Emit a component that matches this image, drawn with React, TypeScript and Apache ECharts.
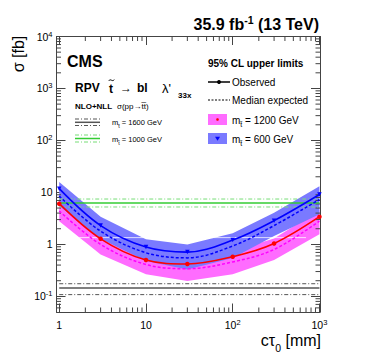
import React, { useEffect, useRef } from 'react';
import * as echarts from 'echarts';

// ---- data ----
const CT = [1, 3, 10, 30, 100, 300, 1000];

const OBS_600 = [11.8, 2.3, 0.89, 0.71, 1.21, 2.86, 9.1];
const EXP_600 = [8.5, 1.8, 0.69, 0.55, 0.93, 2.3, 7.3];
const EXP_600_LO = [5.5, 1.29, 0.48, 0.33, 0.55, 1.45, 3.8];
const EXP_600_HI = [15.8, 3.4, 1.25, 1.0, 1.63, 4.07, 13.2];

const OBS_1200 = [6.07, 1.28, 0.5, 0.42, 0.58, 1.04, 3.41];
const EXP_1200 = [4.4, 1.0, 0.41, 0.34, 0.46, 0.8, 2.8];
const EXP_1200_LO = [2.8, 0.64, 0.265, 0.197, 0.265, 0.5, 1.56];
const EXP_1200_HI = [7.0, 1.6, 0.65, 0.55, 0.75, 1.3, 4.6];

const HLINE_X = [1, 1000];
const XSEC_1000 = [6.25, 5.24, 7.46]; // nominal, down, up
const XSEC_1600 = [0.145, 0.108, 0.175];
const WHITE_X = [1.7, 700];
const WHITE_Y = 1.35;

const X_RANGE = [0.93, 1015];
const Y_RANGE = [0.05, 10000];

const X_MINOR = [2, 3, 4, 5, 6, 7, 8, 9, 20, 30, 40, 50, 60, 70, 80, 90, 200, 300, 400, 500, 600, 700, 800, 900];
const Y_MINOR = [
  0.06, 0.07, 0.08, 0.09,
  0.2, 0.3, 0.4, 0.5, 0.6, 0.7, 0.8, 0.9,
  2, 3, 4, 5, 6, 7, 8, 9,
  20, 30, 40, 50, 60, 70, 80, 90,
  200, 300, 400, 500, 600, 700, 800, 900,
  2000, 3000, 4000, 5000, 6000, 7000, 8000, 9000,
];

// ---- styles ----
const FONT = 'Liberation Sans, Arial, Helvetica, sans-serif';
const FRAME = '#444';
const BLUE_BAND = '#7a7aff';
const MAG_BAND = '#ff6cff';
const BLUE = '#0000ff';
const RED = '#ff0000';
const MAGENTA = '#ff00ff';
const GREEN = '#33cc33';
const GREEN_LIGHT = '#77dd77';
const GRAY = '#555555';
const DASHDOT = [4, 2, 1, 2];

const fmtPow = (v: number) => {
  const e = Math.log10(v);
  const r = Math.round(e);
  if (Math.abs(e - r) > 1e-6) return '';
  if (r === 0) return '1';
  if (r === 1) return '10';
  return `10{sup|${r}}`;
};

const labelRich = {
  sup: { fontSize: 7.5, fontFamily: FONT, color: '#000', verticalAlign: 'top', lineHeight: 8, padding: [0, 0, 5, 0] },
};

const band = (lo: number[], hi: number[], color: string) => ({
  type: 'custom',
  coordinateSystem: 'cartesian2d',
  silent: true,
  data: CT.map((x, i) => [x, lo[i], hi[i]]),
  encode: { x: 0, y: [1, 2] },
  renderItem: (params: any, api: any) => {
    if (params.dataIndexInside !== 0) return null;
    const n = params.dataInsideLength;
    const up: number[][] = [];
    const dn: number[][] = [];
    for (let i = 0; i < n; i++) {
      up.push(api.coord([api.value(0, i), api.value(2, i)]));
      dn.push(api.coord([api.value(0, i), api.value(1, i)]));
    }
    return { type: 'polygon', shape: { points: up.concat(dn.reverse()) }, style: { fill: color } };
  },
});

const hline = (y: number, color: string, width: number, type: any) => ({
  type: 'line',
  data: HLINE_X.map((x) => [x, y]),
  showSymbol: false,
  silent: true,
  lineStyle: { color, width, type },
});

const curve = (vals: number[], color: string, width: number, type: any, symbol: string, rotate = 0) => ({
  type: 'line',
  data: CT.map((x, i) => [x, vals[i]]),
  smooth: 0.35,
  silent: true,
  showSymbol: symbol !== 'none',
  symbol,
  symbolSize: 4.5,
  symbolRotate: rotate,
  itemStyle: { color },
  lineStyle: { color, width, type },
});

const minorTicks = (vals: number[], isX: boolean) => ({
  type: 'custom',
  coordinateSystem: 'cartesian2d',
  silent: true,
  data: vals.map((v) => (isX ? [v, 1] : [1, v])),
  encode: { x: 0, y: 1 },
  renderItem: (params: any, api: any) => {
    const cs = params.coordSys;
    const st = { stroke: FRAME, lineWidth: 1 };
    const L = 4.5;
    if (isX) {
      const p = api.coord([api.value(0), 1]);
      const b = cs.y + cs.height;
      return {
        type: 'group',
        children: [
          { type: 'line', shape: { x1: p[0], y1: b, x2: p[0], y2: b - L }, style: st },
          { type: 'line', shape: { x1: p[0], y1: cs.y, x2: p[0], y2: cs.y + L }, style: st },
        ],
      };
    }
    const p = api.coord([1, api.value(1)]);
    const r = cs.x + cs.width;
    return {
      type: 'group',
      children: [
        { type: 'line', shape: { x1: cs.x, y1: p[1], x2: cs.x + L, y2: p[1] }, style: st },
        { type: 'line', shape: { x1: r, y1: p[1], x2: r - L, y2: p[1] }, style: st },
      ],
    };
  },
});

const axisCommon = {
  type: 'log',
  logBase: 10,
  axisLine: { show: true, onZero: false, lineStyle: { color: FRAME, width: 1 } },
  splitLine: { show: false },
};

const T = (text: string, x: number, y: number, size: number, bold = false, extra: any = {}) => ({
  type: 'text',
  x,
  y,
  silent: true,
  style: {
    text,
    fill: '#000',
    fontSize: size,
    fontFamily: FONT,
    fontWeight: bold ? 'bold' : 'normal',
    align: 'left',
    verticalAlign: 'middle',
    ...extra,
  },
});

const mLabel = (rest: string, x: number, y: number, size: number) =>
  T(`{n|m}{s|t\u0303}{n|${rest}}`, x, y, size, false, {
    rich: {
      n: { fontSize: size, fontFamily: FONT, fill: '#000', verticalAlign: 'bottom', lineHeight: size + 2 },
      s: { fontSize: size * 0.7, fontFamily: FONT, fill: '#000', verticalAlign: 'bottom', lineHeight: size * 0.7, padding: [0, 0, -2, 0] },
    },
  });

const L = (x1: number, y1: number, x2: number, y2: number, stroke: string, lineWidth: number, lineDash?: number[]) => ({
  type: 'line',
  silent: true,
  shape: { x1, y1, x2, y2 },
  style: { stroke, lineWidth, lineDash },
});

const graphics = [
  // top title
  T('{a|35.9 fb}{s|-1}{a| (13 TeV)}', 319, 23, 16, true, {
    align: 'right',
    rich: {
      a: { fontSize: 16, fontWeight: 'bold', fontFamily: FONT, fill: '#000', verticalAlign: 'bottom', lineHeight: 18 },
      s: { fontSize: 10.5, fontWeight: 'bold', fontFamily: FONT, fill: '#000', verticalAlign: 'top', lineHeight: 10 },
    },
  }),
  // axis titles
  {
    type: 'text',
    x: 18,
    y: 54,
    rotation: Math.PI / 2,
    silent: true,
    style: { text: 'σ [fb]', fill: '#000', fontSize: 16, fontFamily: FONT, align: 'center', verticalAlign: 'middle' },
  },
  T('{n|cτ}{s|0}{n| [mm]}', 321, 341, 16, false, {
    align: 'right',
    rich: {
      n: { fontSize: 16, fontFamily: FONT, fill: '#000', verticalAlign: 'top', lineHeight: 18 },
      s: { fontSize: 10.5, fontFamily: FONT, fill: '#000', verticalAlign: 'bottom', lineHeight: 11, padding: [0, 0, -3, 0] },
    },
  }),
  // CMS & process
  T('CMS', 67, 61, 16, true),
  T('RPV', 75, 88, 12, true),
  T('t', 109, 88.5, 12, true),
  {
    type: 'bezierCurve',
    silent: true,
    shape: { x1: 108.8, y1: 80.8, x2: 114.2, y2: 79.6, cpx1: 110.5, cpy1: 78, cpx2: 112.5, cpy2: 82.5 },
    style: { stroke: '#000', lineWidth: 1, fill: 'none' },
  },
  T('→', 120, 88, 12, false),
  T('bl', 137, 88, 12, true),
  T("λ'", 162, 88, 13, false),
  T('33x', 178, 95, 8, true),
  T('NLO+NLL', 75, 106, 8, true),
  T('σ(pp→t\u0303t\u0303)', 117, 106, 8, false),
  // left legend
  L(75, 119, 100, 119, GRAY, 1, DASHDOT),
  L(75, 122.3, 100, 122.3, GRAY, 1.5),
  L(75, 125.5, 100, 125.5, GRAY, 1, DASHDOT),
  mLabel(' = 1600 GeV', 112, 122, 7.5),
  L(75, 135, 100, 135, GREEN_LIGHT, 1, DASHDOT),
  L(75, 138.5, 100, 138.5, GREEN, 1.5),
  L(75, 142, 100, 142, GREEN_LIGHT, 1, DASHDOT),
  mLabel(' = 1000 GeV', 112, 138.5, 7.5),
  // right legend
  T('95% CL upper limits', 208, 63, 10, true),
  L(208, 82, 230, 82, '#000', 1.5),
  { type: 'circle', silent: true, shape: { cx: 219, cy: 82, r: 2 }, style: { fill: '#000' } },
  T('Observed', 232, 82, 10),
  L(208, 100, 230, 100, '#000', 1, [2, 1.5]),
  T('Median expected', 232, 100, 10),
  { type: 'rect', silent: true, shape: { x: 208, y: 114, width: 19, height: 11 }, style: { fill: MAG_BAND } },
  { type: 'circle', silent: true, shape: { cx: 217.5, cy: 119.5, r: 1.3 }, style: { fill: RED } },
  mLabel(' = 1200 GeV', 232, 119.5, 10),
  { type: 'rect', silent: true, shape: { x: 208, y: 133, width: 19, height: 11 }, style: { fill: BLUE_BAND } },
  { type: 'polygon', silent: true, shape: { points: [[215, 136.8], [220, 136.8], [217.5, 140.8]] }, style: { fill: BLUE } },
  mLabel(' = 600 GeV', 232, 138.5, 10),
];

const option: any = {
  animation: false,
  backgroundColor: '#fff',
  grid: { left: 56.5, top: 36.5, width: 263.5, height: 275.5, containLabel: false },
  xAxis: [
    {
      ...axisCommon,
      position: 'bottom',
      min: X_RANGE[0],
      max: X_RANGE[1],
      axisTick: { show: true, inside: true, length: 8.5, lineStyle: { color: FRAME } },
      axisLabel: {
        formatter: fmtPow,
        fontSize: 10.5,
        fontFamily: FONT,
        color: '#000',
        margin: 6,
        lineHeight: 13,
        showMinLabel: false,
        showMaxLabel: true,
        rich: labelRich,
      },
    },
    {
      ...axisCommon,
      position: 'top',
      min: X_RANGE[0],
      max: X_RANGE[1],
      axisTick: { show: true, inside: true, length: 8.5, lineStyle: { color: FRAME } },
      axisLabel: { show: false },
    },
  ],
  yAxis: [
    {
      ...axisCommon,
      position: 'left',
      min: Y_RANGE[0],
      max: Y_RANGE[1],
      axisTick: { show: true, inside: true, length: 9, lineStyle: { color: FRAME } },
      axisLabel: {
        formatter: fmtPow,
        fontSize: 10.5,
        fontFamily: FONT,
        color: '#000',
        margin: 4,
        lineHeight: 13,
        showMinLabel: false,
        rich: labelRich,
      },
    },
    {
      ...axisCommon,
      position: 'right',
      min: Y_RANGE[0],
      max: Y_RANGE[1],
      axisTick: { show: true, inside: true, length: 9, lineStyle: { color: FRAME } },
      axisLabel: { show: false },
    },
  ],
  series: [
    band(EXP_1200_LO, EXP_1200_HI, MAG_BAND),
    band(EXP_600_LO, EXP_600_HI, BLUE_BAND),
    {
      type: 'line',
      data: WHITE_X.map((x) => [x, WHITE_Y]),
      showSymbol: false,
      silent: true,
      lineStyle: { color: '#ffffff', width: 1, opacity: 0.75 },
    },
    hline(XSEC_1000[2], GREEN_LIGHT, 1, DASHDOT),
    hline(XSEC_1000[1], GREEN_LIGHT, 1, DASHDOT),
    hline(XSEC_1000[0], GREEN, 1.5, 'solid'),
    hline(XSEC_1600[2], GRAY, 1, DASHDOT),
    hline(XSEC_1600[1], GRAY, 1, DASHDOT),
    hline(XSEC_1600[0], GRAY, 1.5, 'solid'),
    curve(EXP_1200, MAGENTA, 1.5, [3, 2], 'none'),
    curve(EXP_600, BLUE, 1.5, [3, 2], 'none'),
    curve(OBS_1200, RED, 1.6, 'solid', 'circle'),
    curve(OBS_600, BLUE, 1.6, 'solid', 'triangle', 180),
    minorTicks(X_MINOR, true),
    minorTicks(Y_MINOR, false),
  ],
  graphic: graphics,
};

export default function App() {
  const ref = useRef<HTMLDivElement>(null);
  useEffect(() => {
    document.body.style.margin = '0';
    const chart = echarts.init(ref.current as HTMLDivElement, null, { renderer: 'svg' });
    chart.setOption(option);
    return () => chart.dispose();
  }, []);
  return <div ref={ref} style={{ width: 374, height: 363 }} />;
}
